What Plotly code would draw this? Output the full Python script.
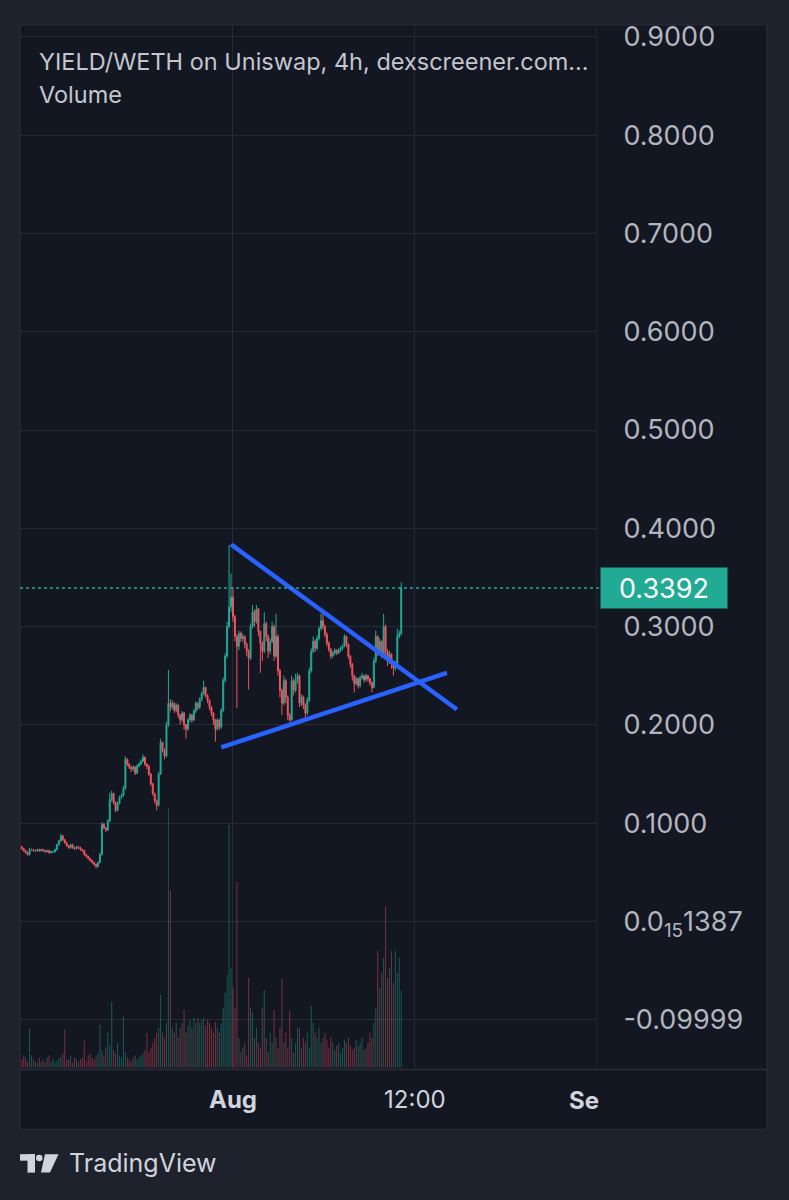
import plotly.graph_objects as go
import pandas as pd

W, H = 789, 1200
def px(x): return x / W
def py(y): return 1 - y / H

# ---------------- data ----------------
first_open = 0.076
close = [
    0.074, 0.072, 0.070, 0.068, 0.073, 0.073, 0.072, 0.072, 0.073, 0.072,
    0.073, 0.072, 0.071, 0.072, 0.070, 0.071, 0.071, 0.073, 0.078, 0.082,
    0.087, 0.083, 0.080, 0.077, 0.075, 0.078, 0.075, 0.074, 0.076, 0.075,
    0.073, 0.072, 0.068, 0.066, 0.064, 0.062, 0.060, 0.058, 0.056, 0.060,
    0.068, 0.099, 0.095, 0.093, 0.102, 0.124, 0.130, 0.121, 0.113, 0.120,
    0.126, 0.128, 0.135, 0.165, 0.160, 0.157, 0.155, 0.157, 0.151, 0.158,
    0.160, 0.163, 0.167, 0.160, 0.158, 0.150, 0.140, 0.130, 0.123, 0.118,
    0.150, 0.182, 0.175, 0.168, 0.200, 0.222, 0.218, 0.222, 0.215, 0.220,
    0.210, 0.205, 0.212, 0.200, 0.196, 0.205, 0.210, 0.205, 0.214, 0.222,
    0.218, 0.226, 0.232, 0.238, 0.230, 0.225, 0.218, 0.212, 0.205, 0.196,
    0.205, 0.198, 0.215, 0.245, 0.270, 0.300, 0.320, 0.330, 0.310, 0.290,
    0.280, 0.293, 0.288, 0.290, 0.282, 0.275, 0.268, 0.300, 0.315, 0.305,
    0.318, 0.295, 0.283, 0.275, 0.303, 0.290, 0.275, 0.285, 0.300, 0.270,
    0.290, 0.255, 0.235, 0.222, 0.245, 0.228, 0.210, 0.205, 0.245, 0.235,
    0.245, 0.250, 0.222, 0.228, 0.220, 0.212, 0.225, 0.255, 0.275, 0.285,
    0.278, 0.288, 0.298, 0.306, 0.300, 0.292, 0.283, 0.277, 0.270, 0.273,
    0.276, 0.273, 0.276, 0.278, 0.280, 0.290, 0.282, 0.270, 0.262, 0.250,
    0.242, 0.247, 0.240, 0.248, 0.250, 0.246, 0.250, 0.247, 0.243, 0.238,
    0.265, 0.290, 0.275, 0.285, 0.272, 0.300, 0.275, 0.265, 0.272, 0.262,
    0.258, 0.262, 0.290, 0.293, 0.3392,
]
high = [
    0.077, 0.075, 0.073, 0.071, 0.075, 0.074, 0.074, 0.073, 0.074, 0.074,
    0.074, 0.074, 0.073, 0.073, 0.073, 0.072, 0.072, 0.074, 0.079, 0.083,
    0.089, 0.088, 0.084, 0.081, 0.078, 0.079, 0.079, 0.076, 0.077, 0.077,
    0.076, 0.074, 0.073, 0.069, 0.067, 0.065, 0.063, 0.061, 0.059, 0.061,
    0.070, 0.101, 0.100, 0.096, 0.104, 0.131, 0.133, 0.131, 0.122, 0.122,
    0.128, 0.130, 0.138, 0.168, 0.166, 0.161, 0.158, 0.159, 0.158, 0.160,
    0.162, 0.165, 0.170, 0.168, 0.161, 0.159, 0.151, 0.141, 0.131, 0.124,
    0.152, 0.186, 0.183, 0.176, 0.203, 0.256, 0.226, 0.225, 0.223, 0.222,
    0.221, 0.211, 0.214, 0.213, 0.201, 0.207, 0.212, 0.211, 0.216, 0.224,
    0.223, 0.228, 0.234, 0.245, 0.239, 0.231, 0.226, 0.219, 0.213, 0.206,
    0.207, 0.206, 0.217, 0.248, 0.273, 0.305, 0.383, 0.354, 0.340, 0.312,
    0.292, 0.296, 0.295, 0.293, 0.291, 0.284, 0.277, 0.303, 0.322, 0.317,
    0.322, 0.319, 0.296, 0.285, 0.315, 0.305, 0.292, 0.288, 0.305, 0.302,
    0.313, 0.292, 0.257, 0.237, 0.250, 0.247, 0.230, 0.212, 0.250, 0.247,
    0.252, 0.253, 0.251, 0.231, 0.230, 0.222, 0.228, 0.258, 0.278, 0.290,
    0.287, 0.291, 0.300, 0.313, 0.313, 0.302, 0.294, 0.285, 0.278, 0.275,
    0.278, 0.277, 0.278, 0.280, 0.282, 0.292, 0.291, 0.283, 0.271, 0.263,
    0.251, 0.249, 0.248, 0.250, 0.253, 0.251, 0.252, 0.251, 0.248, 0.244,
    0.268, 0.296, 0.291, 0.288, 0.286, 0.313, 0.302, 0.277, 0.275, 0.273,
    0.263, 0.265, 0.298, 0.296, 0.345,
]
low = [
    0.073, 0.071, 0.069, 0.067, 0.067, 0.072, 0.071, 0.071, 0.071, 0.071,
    0.071, 0.071, 0.070, 0.070, 0.069, 0.069, 0.070, 0.070, 0.072, 0.077,
    0.081, 0.082, 0.079, 0.076, 0.074, 0.074, 0.074, 0.073, 0.073, 0.074,
    0.072, 0.071, 0.067, 0.065, 0.063, 0.061, 0.059, 0.057, 0.054, 0.055,
    0.059, 0.067, 0.094, 0.091, 0.092, 0.101, 0.122, 0.119, 0.111, 0.112,
    0.119, 0.125, 0.127, 0.134, 0.158, 0.155, 0.152, 0.153, 0.149, 0.150,
    0.157, 0.159, 0.162, 0.158, 0.155, 0.148, 0.138, 0.128, 0.120, 0.113,
    0.117, 0.149, 0.172, 0.165, 0.167, 0.198, 0.214, 0.216, 0.212, 0.213,
    0.207, 0.200, 0.203, 0.195, 0.186, 0.194, 0.203, 0.202, 0.204, 0.212,
    0.215, 0.216, 0.224, 0.230, 0.228, 0.222, 0.215, 0.209, 0.200, 0.183,
    0.194, 0.195, 0.196, 0.213, 0.243, 0.268, 0.298, 0.315, 0.305, 0.285,
    0.217, 0.276, 0.284, 0.285, 0.278, 0.270, 0.236, 0.266, 0.298, 0.300,
    0.303, 0.290, 0.253, 0.265, 0.273, 0.285, 0.268, 0.272, 0.283, 0.265,
    0.268, 0.250, 0.228, 0.210, 0.220, 0.222, 0.205, 0.203, 0.204, 0.230,
    0.233, 0.242, 0.218, 0.219, 0.216, 0.205, 0.210, 0.223, 0.253, 0.273,
    0.274, 0.276, 0.286, 0.296, 0.297, 0.289, 0.280, 0.274, 0.267, 0.268,
    0.271, 0.271, 0.272, 0.274, 0.276, 0.279, 0.279, 0.267, 0.258, 0.245,
    0.233, 0.240, 0.237, 0.238, 0.246, 0.243, 0.244, 0.244, 0.240, 0.233,
    0.237, 0.263, 0.270, 0.272, 0.268, 0.270, 0.270, 0.260, 0.262, 0.257,
    0.250, 0.255, 0.260, 0.288, 0.291,
]
volume = [
    8, 12, 10, 6, 39, 12, 8, 6, 5, 10,
    6, 8, 5, 10, 12, 6, 9, 5, 7, 10,
    10, 14, 38, 8, 8, 12, 5, 10, 8, 6,
    8, 10, 27, 6, 12, 14, 10, 8, 12, 15,
    43, 18, 12, 20, 35, 22, 66, 18, 14, 25,
    12, 10, 51, 15, 10, 8, 6, 10, 12, 8,
    10, 12, 14, 18, 35, 15, 20, 25, 30, 35,
    40, 73, 35, 30, 45, 261, 178, 40, 35, 45,
    30, 40, 45, 58, 35, 42, 48, 40, 50, 45,
    50, 45, 48, 50, 42, 48, 45, 40, 35, 46,
    40, 35, 45, 60, 75, 93, 244, 100, 80, 60,
    186, 30, 15, 20, 25, 12, 90, 60, 55, 30,
    40, 25, 20, 60, 78, 30, 15, 35, 25, 58,
    30, 20, 40, 89, 25, 35, 20, 57, 30, 15,
    25, 40, 40, 20, 30, 25, 35, 20, 62, 45,
    35, 30, 40, 25, 30, 35, 28, 20, 30, 25,
    18, 22, 25, 15, 20, 28, 25, 30, 22, 18,
    20, 28, 22, 25, 30, 18, 20, 25, 35, 30,
    45, 60, 117, 80, 95, 110, 162, 90, 100, 117,
    85, 117, 95, 110, 77,
]
start_time = "2023-07-14 00:00"
last_price = 0.3392

trend_down_t = ["2023-07-31 20:00", "2023-08-20 02:00"]
trend_down_p = [0.3836, 0.2156]
trend_up_t = ["2023-07-31 00:00", "2023-08-19 05:30"]
trend_up_p = [0.1771, 0.2530]

price_ticks = [0.9, 0.8, 0.7, 0.6, 0.5, 0.4, 0.3, 0.2, 0.1, 0.0, -0.1]
price_labels = ["0.9000", "0.8000", "0.7000", "0.6000", "0.5000", "0.4000",
                "0.3000", "0.2000", "0.1000", "0.0<sub>15</sub>1387", "-0.09999"]
time_ticks = ["2023-08-01 00:00", "2023-08-16 12:00"]
time_labels = ["<b>Aug</b>", "12:00"]
sep_time = "2023-09-01 00:00"

# ---------------- styling ----------------
UP = "#22ab94"
DOWN = "#f7525f"
OUTER = "#1e222d"
PANEL = "#131722"
GRID = "#262a35"
TXT = "#c3c6ce"
FONT = "Inter, Roboto, sans-serif"

open_ = [first_open] + close[:-1]
times = pd.date_range(start_time, periods=len(close), freq="4h")
vol_colors = ["rgba(34,171,148,0.42)" if c >= o else "rgba(247,82,95,0.42)"
              for o, c in zip(open_, close)]

fig = go.Figure()
fig.add_trace(go.Bar(x=times, y=volume, marker=dict(color=vol_colors, line=dict(width=0)),
                     width=4 * 3600 * 1000 * 0.55, yaxis="y2", hoverinfo="skip",
                     showlegend=False))
fig.add_trace(go.Candlestick(x=times, open=open_, high=high, low=low, close=close,
                             increasing=dict(line=dict(color=UP, width=1), fillcolor=UP),
                             decreasing=dict(line=dict(color=DOWN, width=1), fillcolor=DOWN),
                             whiskerwidth=0, hoverinfo="skip", showlegend=False))
fig.add_trace(go.Scatter(x=trend_down_t, y=trend_down_p, mode="lines",
                         line=dict(color="#2962ff", width=4.5), hoverinfo="skip",
                         showlegend=False))
fig.add_trace(go.Scatter(x=trend_up_t, y=trend_up_p, mode="lines",
                         line=dict(color="#2962ff", width=4.5), hoverinfo="skip",
                         showlegend=False))

shapes = [
    # panel
    dict(type="rect", xref="paper", yref="paper", x0=px(20), x1=px(767), y0=py(1129), y1=py(20),
         fillcolor=PANEL, line=dict(color="#2a2e39", width=1), layer="below"),
    # Sep grid line
    dict(type="line", xref="x", yref="paper", x0=sep_time, x1=sep_time, y0=py(1069), y1=py(20),
         line=dict(color=GRID, width=1), layer="below"),
    # time axis separator
    dict(type="line", xref="paper", yref="paper", x0=px(20), x1=px(767), y0=py(1069), y1=py(1069),
         line=dict(color="#2a2e39", width=1.5)),
    # last price dotted line
    dict(type="line", xref="paper", yref="y", x0=px(20), x1=px(600), y0=last_price, y1=last_price,
         line=dict(color=UP, width=1.5, dash="dot")),
    # TradingView logo
    dict(type="rect", xref="paper", yref="paper", x0=px(20), x1=px(35), y0=py(1160.5), y1=py(1154),
         fillcolor="#d1d4dc", line=dict(width=0)),
    dict(type="rect", xref="paper", yref="paper", x0=px(27.5), x1=px(35), y0=py(1172.5), y1=py(1154),
         fillcolor="#d1d4dc", line=dict(width=0)),
    dict(type="circle", xref="paper", yref="paper", x0=px(36), x1=px(42.5), y0=py(1161), y1=py(1154.5),
         fillcolor="#d1d4dc", line=dict(width=0)),
    dict(type="path", xref="paper", yref="paper",
         path=f"M {px(45)} {py(1154)} L {px(58.5)} {py(1154)} L {px(50)} {py(1172.5)} L {px(41)} {py(1172.5)} Z",
         fillcolor="#d1d4dc", line=dict(width=0)),
]

annotations = [
    dict(xref="paper", yref="paper", x=px(37), y=py(57), xanchor="left", yanchor="middle",
         text="YIELD/WETH on Uniswap, 4h, dexscreener.com...", showarrow=False,
         font=dict(family=FONT, size=23.5, color=TXT)),
    dict(xref="paper", yref="paper", x=px(37), y=py(90), xanchor="left", yanchor="middle",
         text="Volume", showarrow=False, font=dict(family=FONT, size=23.5, color=TXT)),
    dict(xref="paper", yref="y", x=px(600), y=last_price, xanchor="left", yanchor="middle",
         text="0.3392", showarrow=False, bgcolor=UP, width=124, height=38, align="center",
         borderpad=1, font=dict(family=FONT, size=27, color="#ffffff")),
    dict(xref="paper", yref="paper", x=px(601), y=py(1100), xanchor="right", yanchor="middle",
         text="<b>Se</b>", showarrow=False, font=dict(family=FONT, size=24, color="#d1d4dc")),
    dict(xref="paper", yref="paper", x=px(67), y=py(1163), xanchor="left", yanchor="middle",
         text="TradingView", showarrow=False, font=dict(family=FONT, size=25, color="#d1d4dc")),
]

fig.update_layout(
    width=W, height=H, margin=dict(l=0, r=0, t=0, b=0),
    paper_bgcolor=OUTER, plot_bgcolor="rgba(0,0,0,0)",
    showlegend=False, hovermode=False,
    shapes=shapes, annotations=annotations,
    xaxis=dict(domain=[px(20), px(597)], type="date",
               range=["2023-07-13 20:30", "2023-09-01 00:20"],
               rangeslider=dict(visible=False),
               tickvals=time_ticks, ticktext=time_labels,
               showgrid=True, gridcolor=GRID, gridwidth=1,
               ticks="outside", ticklen=9, tickcolor="rgba(0,0,0,0)",
               tickfont=dict(family=FONT, size=24, color="#d1d4dc"),
               zeroline=False, showline=False, fixedrange=True),
    yaxis=dict(domain=[py(1069), py(20)], range=[-0.1507, 0.9122], side="right",
               tickvals=price_ticks, ticktext=price_labels,
               showgrid=True, gridcolor=GRID, gridwidth=1,
               ticks="outside", ticklen=20, tickcolor="rgba(0,0,0,0)",
               tickfont=dict(family=FONT, size=27, color="#b2b5be"),
               zeroline=False, showline=False, fixedrange=True),
    yaxis2=dict(overlaying="y", range=[-2, 1047], visible=False, fixedrange=True),
)

fig.write_html(
    "out.html",
    config={"displayModeBar": False, "staticPlot": True},
    post_script="document.body.style.margin='0';document.body.style.background='#1e222d';",
)
